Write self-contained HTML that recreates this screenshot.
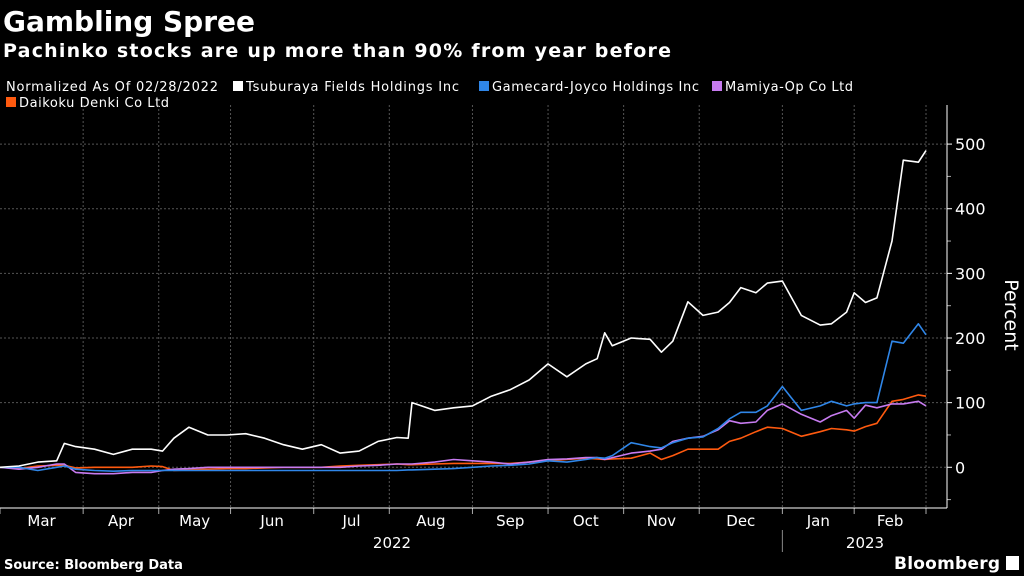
<!DOCTYPE html>
<html><head><meta charset="utf-8"><style>
body{margin:0;background:#000;width:1024px;height:576px;overflow:hidden;font-family:"DejaVu Sans",sans-serif;color:#fff}
</style></head><body>
<svg id="chart" width="1024" height="576" xmlns="http://www.w3.org/2000/svg" style="position:absolute;left:0;top:0;font-family:'DejaVu Sans',sans-serif">
<rect width="1024" height="576" fill="#000"/>
<text x="3" y="31" fill="#fff" font-size="28" font-weight="bold" textLength="252">Gambling Spree</text>
<text x="3" y="57" fill="#fff" font-size="19" font-weight="bold" textLength="668">Pachinko stocks are up more than 90% from year before</text>
<text x="6" y="91" fill="#fff" font-size="13" textLength="212">Normalized As Of 02/28/2022</text>
<g id="legend"></g>
<g id="grid"></g><g id="series"></g><g id="axes"></g>
<text x="4" y="569" fill="#fff" font-size="13" font-weight="bold">Source: Bloomberg Data</text>
<text x="894" y="569" fill="#fff" font-size="17" font-weight="bold" textLength="106">Bloomberg</text>
<rect x="1006" y="556" width="13" height="14" fill="#fff"/>
</svg>
<script>
const days=[0,5,10,15,17,20,25,30,35,40,43,46,50,55,60,65,70,75,80,85,90,95,100,105,108,109,115,120,125,130,135,140,145,150,155,158,160,162,167,172,175,178,182,186,190,193,196,200,203,207,212,217,220,224,226,229,232,236,239,243,245];
const tsuburaya=[0,2,8,10,37,32,28,20,28,28,25,45,62,50,50,52,45,35,28,35,22,25,40,46,45,100,88,92,95,110,120,135,160,140,160,168,208,188,200,198,178,195,256,235,240,255,278,270,285,288,235,220,222,240,270,255,262,350,475,472,490];
const gamecard=[0,0,-5,0,2,-3,-5,-6,-5,-5,-5,-5,-5,-5,-5,-5,-5,-5,-5,-5,-5,-5,-5,-5,-4,-4,-3,-2,0,2,3,5,10,8,12,15,14,18,38,32,30,38,45,47,60,75,85,85,95,125,88,95,102,95,98,100,100,195,192,222,205];
const mamiya=[0,-3,0,5,5,-8,-10,-10,-8,-8,-5,-3,-2,0,0,0,0,0,0,0,0,2,3,5,5,5,8,12,10,8,5,8,12,13,15,15,12,15,22,25,28,40,45,48,58,72,68,70,88,98,82,70,80,88,76,96,92,98,98,102,95];
const daikoku=[0,-2,2,3,3,-1,0,0,0,2,1,-5,-4,-3,-2,-2,-1,0,0,0,2,3,4,5,4,4,5,6,6,6,6,8,10,12,14,13,12,13,14,22,12,18,28,28,28,40,45,55,62,60,48,55,60,58,56,63,68,102,105,112,110];
const seriesNames=["Tsuburaya Fields Holdings Inc","Gamecard-Joyco Holdings Inc","Mamiya-Op Co Ltd","Daikoku Denki Co Ltd"];
const monthLabels=["Mar","Apr","May","Jun","Jul","Aug","Sep","Oct","Nov","Dec","Jan","Feb"];
const monthStarts=[0,22,42,61,83,103,125,145,165,185,207,226,245];
const yTicks=[0,100,200,300,400,500];
const NS="http://www.w3.org/2000/svg";
const colors=["#ffffff","#2f86e8","#c77bf0","#ff5a0f"];
const X0=0,X1=926,YMIN=-63,YMAX=545,PT=115,PB=508,AX=947;
const xs=d=>X0+(d/245)*(X1-X0);
const ys=v=>PB-(v-YMIN)/(YMAX-YMIN)*(PB-PT);
function mk(tag,attrs,parent){const e=document.createElementNS(NS,tag);for(const k in attrs)e.setAttribute(k,attrs[k]);parent.appendChild(e);return e;}
const grid=document.getElementById('grid'),axes=document.getElementById('axes'),ser=document.getElementById('series'),leg=document.getElementById('legend');
yTicks.forEach(v=>{const l=mk('line',{x1:0,x2:AX,y1:ys(v),y2:ys(v),stroke:'#555','stroke-dasharray':'2,2'},grid);


const t=mk('text',{x:955,y:ys(v)+6,fill:'#fff','font-size':16},axes);t.textContent=v;


mk('line',{x1:AX,x2:AX+5,y1:ys(v),y2:ys(v),stroke:'#fff'},axes);});
[-50,50,150,250,350,450].forEach(v=>{mk('line',{x1:AX,x2:AX+4,y1:ys(v),y2:ys(v),stroke:'#aaa'},axes);});
monthStarts.forEach((d,i)=>{if(i>0){const g=mk('line',{x1:xs(d),x2:xs(d),y1:PT-10,y2:PB,stroke:'#555','stroke-dasharray':'2,2'},grid);

}
mk('line',{x1:xs(d),x2:xs(d),y1:PB,y2:PB+6,stroke:'#aaa'},axes);
if(i<monthLabels.length){const t=mk('text',{x:(xs(d)+xs(monthStarts[i+1]))/2,y:526,fill:'#fff','font-size':15,'text-anchor':'middle'},axes);t.textContent=monthLabels[i];

}});
mk('line',{x1:0,x2:AX,y1:PB,y2:PB,stroke:'#fff'},axes);
mk('line',{x1:AX,x2:AX,y1:PT-10,y2:PB,stroke:'#fff'},axes);
mk('line',{x1:xs(207),x2:xs(207),y1:530,y2:552,stroke:'#888'},axes);
let y1=mk('text',{x:392,y:548,fill:'#fff','font-size':15,'text-anchor':'middle'},axes);y1.textContent="2022";


let y2=mk('text',{x:865,y:548,fill:'#fff','font-size':15,'text-anchor':'middle'},axes);y2.textContent="2023";


let pt=mk('text',{x:0,y:0,fill:'#fff','font-size':19,'text-anchor':'middle',transform:'translate(1005,315) rotate(90)'},axes);pt.textContent="Percent";


const all=[daikoku,mamiya,gamecard,tsuburaya],ord=[3,2,1,0];
all.forEach((vals,j)=>{const i=ord[j];const p=mk('polyline',{points:days.map((d,k)=>xs(d).toFixed(1)+','+ys(vals[k]).toFixed(1)).join(' '),fill:'none',stroke:colors[i],'stroke-width':1.6,'stroke-linejoin':'round'},ser);

});
const legPos=[[233,91],[479,91],[712,91],[6,107]];
const legW=[213,207,128,150];
seriesNames.forEach((n,i)=>{const g=mk('g',{},leg);


mk('rect',{x:legPos[i][0],y:legPos[i][1]-10,width:10,height:10,fill:colors[i]},g);
const t=mk('text',{x:legPos[i][0]+13,y:legPos[i][1],fill:'#fff','font-size':13,textLength:legW[i]},g);t.textContent=n;});
</script>
</body></html>
